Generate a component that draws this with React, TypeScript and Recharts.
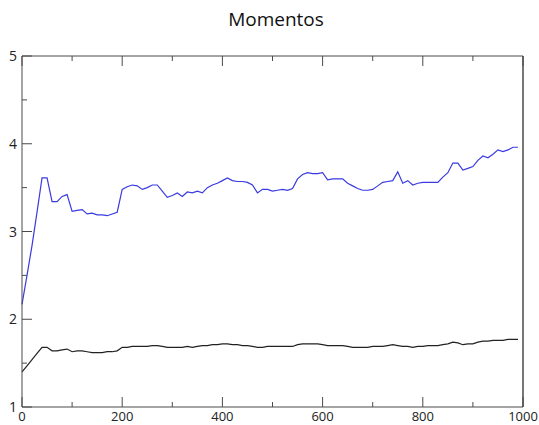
import { LineChart, Line, XAxis, YAxis } from 'recharts';

const xValues = [
  0, 10, 20, 30, 40, 50, 60, 70, 80, 90,
  100, 110, 120, 130, 140, 150, 160, 170, 180, 190,
  200, 210, 220, 230, 240, 250, 260, 270, 280, 290,
  300, 310, 320, 330, 340, 350, 360, 370, 380, 390,
  400, 410, 420, 430, 440, 450, 460, 470, 480, 490,
  500, 510, 520, 530, 540, 550, 560, 570, 580, 590,
  600, 610, 620, 630, 640, 650, 660, 670, 680, 690,
  700, 710, 720, 730, 740, 750, 760, 770, 780, 790,
  800, 810, 820, 830, 840, 850, 860, 870, 880, 890,
  900, 910, 920, 930, 940, 950, 960, 970, 980, 990,
];

const blueSeries = [
  2.17, 2.5, 2.84, 3.22, 3.61, 3.61, 3.34, 3.34, 3.4, 3.42,
  3.23, 3.24, 3.25, 3.2, 3.21, 3.19, 3.19, 3.18, 3.2, 3.22,
  3.48, 3.51, 3.53, 3.52, 3.48, 3.5, 3.53, 3.53, 3.46, 3.39,
  3.41, 3.44, 3.4, 3.45, 3.44, 3.46, 3.44, 3.5, 3.53, 3.55,
  3.58, 3.61, 3.58, 3.57, 3.57, 3.56, 3.53, 3.44, 3.48, 3.48,
  3.46, 3.47, 3.48, 3.47, 3.49, 3.6, 3.65, 3.67, 3.66, 3.66,
  3.67, 3.59, 3.6, 3.6, 3.6, 3.55, 3.52, 3.49, 3.47, 3.47,
  3.48, 3.52, 3.56, 3.57, 3.58, 3.68, 3.55, 3.58, 3.53, 3.55,
  3.56, 3.56, 3.56, 3.56, 3.62, 3.67, 3.78, 3.78, 3.7, 3.72,
  3.74, 3.81, 3.86, 3.84, 3.88, 3.93, 3.91, 3.93, 3.96, 3.96,
];

const blackSeries = [
  1.4, 1.47, 1.54, 1.61, 1.68, 1.68, 1.64, 1.64, 1.65, 1.66,
  1.63, 1.64, 1.64, 1.63, 1.62, 1.62, 1.62, 1.63, 1.63, 1.64,
  1.68, 1.68, 1.69, 1.69, 1.69, 1.69, 1.7, 1.7, 1.69, 1.68,
  1.68, 1.68, 1.68, 1.69, 1.68, 1.69, 1.7, 1.7, 1.71, 1.71,
  1.72, 1.72, 1.71, 1.71, 1.7, 1.7, 1.69, 1.68, 1.68, 1.69,
  1.69, 1.69, 1.69, 1.69, 1.69, 1.71, 1.72, 1.72, 1.72, 1.72,
  1.71, 1.7, 1.7, 1.7, 1.7, 1.69, 1.68, 1.68, 1.68, 1.68,
  1.69, 1.69, 1.69, 1.7, 1.71, 1.7, 1.69, 1.69, 1.68, 1.69,
  1.69, 1.7, 1.7, 1.7, 1.71, 1.72, 1.74, 1.73, 1.71, 1.72,
  1.72, 1.74, 1.75, 1.75, 1.76, 1.76, 1.76, 1.77, 1.77, 1.77,
];

const xTicks = [0, 100, 200, 300, 400, 500, 600, 700, 800, 900, 1000];
const yTicks = [1, 1.5, 2, 2.5, 3, 3.5, 4, 4.5, 5];

const AXIS = '#4a4a4a';
const FONT = '"Open Sans", "DejaVu Sans", sans-serif';

const data = xValues.map((x, i) => ({ x, blue: blueSeries[i], black: blackSeries[i] }));

const BottomTick = ({ x, y, payload }: any) => {
  const major = payload.value % 200 === 0;
  return (
    <g>
      <line x1={x} y1={y} x2={x} y2={y - (major ? 10 : 5)} stroke={AXIS} />
      {major && (
        <text x={x} y={y + 14} textAnchor="middle" fontSize={13} fontFamily={FONT} fill="#222">
          {payload.value}
        </text>
      )}
    </g>
  );
};

const TopTick = ({ x, y, payload }: any) => {
  const major = payload.value % 200 === 0;
  return <line x1={x} y1={y} x2={x} y2={y + (major ? 10 : 5)} stroke={AXIS} />;
};

const LeftTick = ({ x, y, payload }: any) => {
  const major = Number.isInteger(payload.value);
  return (
    <g>
      <line x1={x} y1={y} x2={x + (major ? 10 : 5)} y2={y} stroke={AXIS} />
      {major && (
        <text x={x - 5} y={y + 5} textAnchor="end" fontSize={14} fontFamily={FONT} fill="#222">
          {payload.value}
        </text>
      )}
    </g>
  );
};

const RightTick = ({ x, y, payload }: any) => {
  const major = Number.isInteger(payload.value);
  return <line x1={x} y1={y} x2={x - (major ? 10 : 7)} y2={y} stroke={AXIS} />;
};

export default function App() {
  return (
    <div style={{ position: 'absolute', left: 0, top: 0, width: 539, height: 425, background: '#fff' }}>
      <svg width={539} height={40} style={{ position: 'absolute', left: 0, top: 0 }}>
        <text x={276} y={26} textAnchor="middle" fontSize={19} fontFamily={FONT} fill="#111">
          Momentos
        </text>
      </svg>
      <LineChart width={539} height={425} data={data} margin={{ top: 55, right: 15, bottom: 0, left: 0 }}>
        <XAxis
          xAxisId="bottom"
          dataKey="x"
          type="number"
          domain={[0, 1000]}
          ticks={xTicks}
          interval={0}
          height={18}
          tickSize={0}
          tickMargin={0}
          axisLine={{ stroke: AXIS }}
          tickLine={false}
          tick={BottomTick}
        />
        <XAxis
          xAxisId="top"
          orientation="top"
          dataKey="x"
          type="number"
          domain={[0, 1000]}
          ticks={xTicks}
          interval={0}
          height={1}
          tickSize={0}
          tickMargin={0}
          axisLine={{ stroke: AXIS }}
          tickLine={false}
          tick={TopTick}
        />
        <YAxis
          yAxisId="left"
          type="number"
          domain={[1, 5]}
          ticks={yTicks}
          interval={0}
          width={22}
          tickSize={0}
          tickMargin={0}
          axisLine={{ stroke: AXIS }}
          tickLine={false}
          tick={LeftTick}
        />
        <YAxis
          yAxisId="right"
          orientation="right"
          type="number"
          domain={[1, 5]}
          ticks={yTicks}
          interval={0}
          width={1}
          tickSize={0}
          tickMargin={0}
          axisLine={{ stroke: AXIS, strokeWidth: 1.5 }}
          tickLine={false}
          tick={RightTick}
        />
        <Line
          xAxisId="bottom"
          yAxisId="left"
          type="linear"
          dataKey="blue"
          stroke="#3a3ae0"
          strokeWidth={1.2}
          dot={false}
          isAnimationActive={false}
        />
        <Line
          xAxisId="bottom"
          yAxisId="left"
          type="linear"
          dataKey="black"
          stroke="#222"
          strokeWidth={1.2}
          dot={false}
          isAnimationActive={false}
        />
      </LineChart>
    </div>
  );
}
